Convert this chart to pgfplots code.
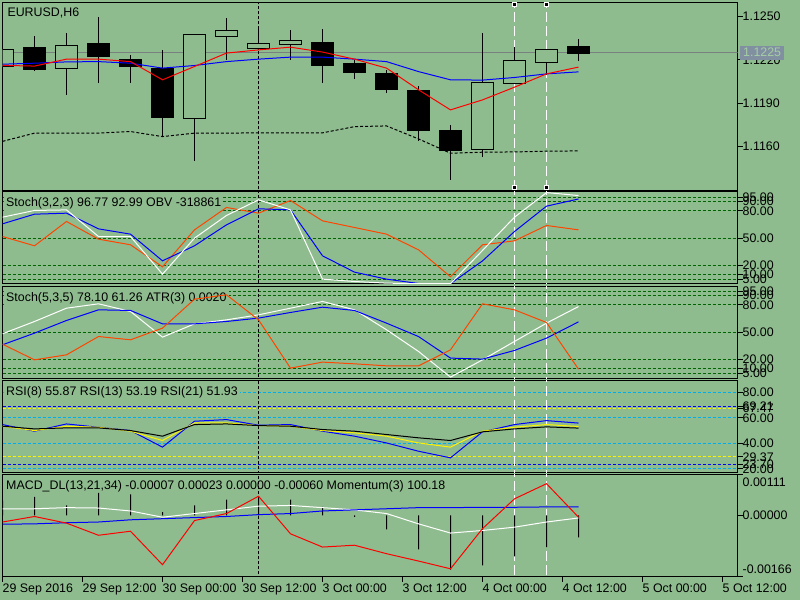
\documentclass[border=0pt]{standalone}
\usepackage{fontspec}
\setmainfont{Liberation Sans}
\usepackage{pgfplots}
\usepackage{pgfplotstable}
\pgfplotsset{compat=1.18}
\definecolor{bg}{RGB}{143,188,143}
\definecolor{lvl}{RGB}{0,100,0}
\definecolor{orred}{RGB}{255,69,0}
\definecolor{tagbg}{RGB}{128,144,160}
\definecolor{tagfg}{RGB}{165,205,165}
\definecolor{bidgray}{RGB}{120,128,128}
\newcommand{\lbl}{\fontsize{12.4}{14}\selectfont}

\pgfplotstableread{
i red blue env
0 1.12162 1.12170 1.11636
1 1.12157 1.12177 1.11693
2 1.12205 1.12186 1.11693
3 1.12205 1.12188 1.11693
4 1.12188 1.12177 1.11704
5 1.12062 1.12143 1.11669
6 1.12154 1.12161 1.11693
7 1.12247 1.12188 1.11693
8 1.12269 1.12205 1.11695
9 1.12288 1.12219 1.11695
10 1.12254 1.12219 1.11695
11 1.12205 1.12205 1.11738
12 1.12143 1.12188 1.11743
13 1.11993 1.12119 1.11653
14 1.11854 1.12062 1.11554
15 1.11923 1.12060 1.11561
16 1.12011 1.12078 1.11563
17 1.12103 1.12103 1.11568
18 1.12150 1.12117 1.11570
}\mainMA

\pgfplotstableread{
i w b r
0 73 65.7 51.8
1 80.4 76.3 41.6
2 81 77.4 68.3
3 51.8 60.2 48.9
4 51.8 54.4 42.7
5 10.5 25.1 18.5
6 50 41.6 59.1
7 74.9 64.6 83.7
8 92 82.2 77.4
9 81 81.1 91.3
10 5 30.6 69
11 2.4 12.7 61.7
12 0.6 5 54.4
13 0 0.2 37.2
14 0 0 7.6
15 36.5 25 42.7
16 73 57.3 47.1
17 100 85.1 63.9
18 96.77 92.99 59.1
}\stA

\pgfplotstableread{
i w b r
0 48.2 36.1 36.8
1 61.7 48.9 19.6
2 76.3 62.8 25.1
3 81.1 74.5 45.2
4 72.7 73.8 41.6
5 44.5 59.1 54.4
6 59.1 59.1 86.2
7 63.5 61.7 91
8 69 65.4 63.5
9 76.3 71.6 10.5
10 83.7 77.4 17.1
11 74.5 73.8 15.2
12 52.6 59.9 13
13 28.8 45.2 13
14 0.6 21.5 30.6
15 19.6 20.4 81.1
16 39.8 29.9 74.5
17 59.9 43.4 60.6
18 78.1 61.26 9.4
}\stB

\pgfplotstableread{
i k y b
0 53.4 53.4 54.7
1 51.3 50 49.5
2 52.1 53.4 55.2
3 52.1 52.6 52.6
4 50 49.5 50
5 45.6 42.2 37
6 54.7 56 57.3
7 55.2 56 58.6
8 53.9 53.9 54.2
9 53.4 53.4 54.7
10 50.8 50 49.5
11 49.5 48.2 45.6
12 46.9 45.6 40.3
13 44.3 40.3 33.8
14 42.2 37 28.6
15 49 49.5 49
16 51.3 52.6 54.7
17 52.9 54.7 57.8
18 51.93 53.19 55.87
}\rsi

\pgfplotstableread{
i h w b r
0 0.00040 0.00018 -0.00024 -0.00018
1 0.00050 0.00018 -0.00023 -0.00003
2 0.00027 0.00021 -0.00020 -0.00021
3 0.00061 0.00020 -0.00018 -0.00054
4 0.00057 0.00012 -0.00012 -0.00043
5 0.00009 -0.00005 -0.00009 -0.00134
6 0.00027 0.00005 -0.00006 -0.00014
7 0.00043 0.00015 -0.00003 0.00005
8 0.00052 0.00025 0.00002 0.00052
9 0.00043 0.00027 0.00005 -0.00050
10 0.00023 0.00021 0.00012 -0.00086
11 -0.00004 0.00015 0.00015 -0.00081
12 -0.00038 0.00005 0.00018 -0.00104
13 -0.00092 -0.00023 0.00021 -0.00124
14 -0.00147 -0.00048 0.00021 -0.00145
15 -0.00136 -0.00041 0.00022 -0.00036
16 -0.00111 -0.00032 0.00022 0.00045
17 -0.00086 -0.00018 0.00023 0.00086
18 -0.00060 -0.00007 0.00023 -0.00005
}\macd

\pgfplotsset{
 mt/.style={
  scale only axis, width=735pt, anchor=north west,
  xmin=0, xmax=22.96875,
  axis line style={line width=1pt},
  major tick style={line width=1pt, black},
  major tick length=5pt, tick align=outside,
  xtick=\empty, ytick pos=right, yticklabel pos=right,
  scaled y ticks=false, scaled x ticks=false,
  yticklabel style={anchor=west, inner sep=0pt},
  xticklabel style={anchor=north west, inner sep=0pt, yshift=-1.8pt},
  clip=true,
 },
 lv/.style={line width=1pt, dash pattern=on 3pt off 2pt},
 dl/.style={line width=1pt},
}
% candle: xleft, xcentre, xright, open, high, low, close, body fill
\newcommand{\candle}[8]{%
  \addplot[black, line width=1pt] coordinates {(#2,#6) (#2,#5)};
  \addplot[draw=black, fill=#8, line width=1pt] coordinates {(#1,#4) (#3,#4) (#3,#7) (#1,#7)} -- cycle;}
\newcommand{\ptitle}[1]{\node[anchor=north west, inner sep=2pt, fill=bg, xshift=1.5pt, yshift=-4pt] at (rel axis cs:0,1) {#1};}
\newcommand{\vlines}[2]{%
  \addplot[black, lv] coordinates {(8,#1) (8,#2)};
  \addplot[white, line width=1pt, dash pattern=on 10pt off 4pt] coordinates {(16,#1) (16,#2)};
  \addplot[white, line width=1pt, dash pattern=on 10pt off 4pt] coordinates {(17,#1) (17,#2)};}

\begin{document}
\begin{tikzpicture}[font=\lbl]
\fill[bg] (0,0) rectangle (800pt,-600pt);
\path[use as bounding box] (0,0) rectangle (800pt,-600pt);

% ---------- main price panel
\begin{axis}[mt, at={(2.5pt,-2.5pt)}, height=188pt,
  ymin=1.11296, ymax=1.12597,
  ytick={1.1160,1.1190,1.1220,1.1250}, yticklabels={1.1160,1.1190,1.1220,1.1250},
  extra y ticks={1.1225}, extra y tick labels={1.1225\hspace{3.5pt}},
  extra y tick style={yticklabel style={fill=tagbg, text=tagfg, inner xsep=3pt, inner ysep=2.7pt, xshift=2.5pt}, major tick length=0pt}]
\addplot[bidgray, dl] coordinates {(0,1.1225) (23,1.1225)};
\node[anchor=north west, inner sep=0pt, xshift=4.8pt, yshift=-4.8pt] at (rel axis cs:0,1) {EURUSD,H6};
\vlines{1.112}{1.127}
\candle{-0.345}{0}{0.345}{1.12154}{1.12274}{1.12154}{1.12274}{bg}
\candle{0.655}{1}{1.345}{1.12288}{1.12366}{1.12124}{1.12136}{black}
\candle{1.655}{2}{2.345}{1.12143}{1.12385}{1.11958}{1.12297}{bg}
\candle{2.655}{3}{3.345}{1.12311}{1.12496}{1.12039}{1.12223}{black}
\candle{3.655}{4}{4.345}{1.12205}{1.12235}{1.12043}{1.12154}{black}
\candle{4.655}{5}{5.345}{1.12143}{1.12269}{1.11665}{1.11804}{black}
\candle{5.655}{6}{6.345}{1.11797}{1.12378}{1.11503}{1.12378}{bg}
\candle{6.655}{7}{7.345}{1.12364}{1.12489}{1.12200}{1.12406}{bg}
\candle{7.655}{8}{8.345}{1.12276}{1.12436}{1.12269}{1.12316}{bg}
\candle{8.655}{9}{9.345}{1.12309}{1.12408}{1.12200}{1.12337}{bg}
\candle{9.655}{10}{10.345}{1.12323}{1.12415}{1.12043}{1.12161}{black}
\candle{10.655}{11}{11.345}{1.12177}{1.12200}{1.12069}{1.12112}{black}
\candle{11.655}{12}{12.345}{1.12108}{1.12131}{1.11974}{1.11997}{black}
\candle{12.655}{13}{13.345}{1.11986}{1.12020}{1.11642}{1.11711}{black}
\candle{13.655}{14}{14.345}{1.11709}{1.11750}{1.11369}{1.11572}{black}
\candle{14.655}{15}{15.345}{1.11582}{1.12389}{1.11527}{1.12046}{bg}
\candle{15.655}{16}{16.345}{1.12039}{1.12292}{1.12039}{1.12198}{bg}
\candle{16.655}{17}{17.345}{1.12184}{1.12274}{1.12096}{1.12274}{bg}
\candle{17.655}{18}{18.345}{1.12290}{1.12344}{1.12195}{1.12247}{black}
\addplot[black, lv] table[x=i, y=env] {\mainMA};
\addplot[blue, dl] table[x=i, y=blue] {\mainMA};
\addplot[red, dl] table[x=i, y=red] {\mainMA};
\addplot[only marks, mark=square*, mark size=2pt, mark options={fill=black, draw=white, line width=0.8pt, solid}] coordinates {(16,1.12581) (16,1.11319) (17,1.12581) (17,1.11319)};
\end{axis}

% ---------- Stoch(3,2,3) + OBV
\begin{axis}[mt, at={(2.5pt,-191.5pt)}, height=92pt,
  ymin=0.2, ymax=101.2,
  ytick={5,10,20,50,80,90,95}, yticklabels={5.00,10.00,20.00,50.00,80.00,90.00,95.00},
  ymajorgrids, major grid style={lvl, lv}]
\ptitle{Stoch(3,2,3) 96.77 92.99 OBV -318861}
\vlines{-10}{110}
\addplot[orred, dl] table[x=i, y=r] {\stA};
\addplot[blue, dl] table[x=i, y=b] {\stA};
\addplot[white, dl] table[x=i, y=w] {\stA};
\end{axis}

% ---------- Stoch(5,3,5) + ATR
\begin{axis}[mt, at={(2.5pt,-286.5pt)}, height=92pt,
  ymin=-0.9, ymax=100.1,
  ytick={5,10,20,50,80,90,95}, yticklabels={5.00,10.00,20.00,50.00,80.00,90.00,95.00},
  ymajorgrids, major grid style={lvl, lv}]
\ptitle{Stoch(5,3,5) 78.10 61.26 ATR(3) 0.0020}
\vlines{-10}{110}
\addplot[white, dl] table[x=i, y=w] {\stB};
\addplot[blue, dl] table[x=i, y=b] {\stB};
\addplot[orred, dl] table[x=i, y=r] {\stB};
\end{axis}

% ---------- RSI
\begin{axis}[mt, at={(2.5pt,-380pt)}, height=92.5pt,
  ymin=17.1, ymax=89.65,
  ytick={20,23.70,29.37,40,60,67.47,69.21,80},
  yticklabels={20.00,23.70,29.37,40.00,60.00,67.47,69.21,80.00}]
\addplot[cyan, lv] coordinates {(0,80) (23,80)};
\addplot[cyan, lv] coordinates {(0,60) (23,60)};
\addplot[cyan, lv] coordinates {(0,40) (23,40)};
\addplot[cyan, lv] coordinates {(0,20) (23,20)};
\addplot[yellow, lv] coordinates {(0,67.47) (23,67.47)};
\addplot[yellow, lv] coordinates {(0,29.37) (23,29.37)};
\addplot[blue, lv] coordinates {(0,69.21) (23,69.21)};
\addplot[blue, lv] coordinates {(0,23.70) (23,23.70)};
\ptitle{RSI(8) 55.87 RSI(13) 53.19 RSI(21) 51.93}
\vlines{0}{100}
\addplot[blue, dl] table[x=i, y=b] {\rsi};
\addplot[yellow, dl] table[x=i, y=y] {\rsi};
\addplot[black, dl] table[x=i, y=k] {\rsi};
\end{axis}

% ---------- MACD + Momentum
\begin{axis}[mt, at={(2.5pt,-474.5pt)}, height=102pt,
  ymin=-0.00166, ymax=0.00111,
  ytick={-0.00166,0,0.00111},
  yticklabels={\raisebox{2.76pt}{-0.00166},\raisebox{-4.44pt}{0.00000},\raisebox{-11.64pt}{0.00111}},
  yticklabel style={anchor=base west, inner sep=0pt},
  xtick={0,2.5,5,7.5,10,12.5,15,17.5,20,22.5}, xtick pos=left,
  xticklabels={29 Sep 2016,29 Sep 12:00,30 Sep 00:00,30 Sep 12:00,3 Oct 00:00,3 Oct 12:00,4 Oct 00:00,4 Oct 12:00,5 Oct 00:00,5 Oct 12:00}]
\ptitle{MACD\_DL(13,21,34) -0.00007 0.00023 0.00000 -0.00060 Momentum(3) 100.18}
\vlines{-0.002}{0.002}
\addplot[ybar, bar width=1pt, fill=black, draw=none] table[x=i, y=h] {\macd};
\addplot[white, dl] table[x=i, y=w] {\macd};
\addplot[blue, dl] table[x=i, y=b] {\macd};
\addplot[red, dl] table[x=i, y=r] {\macd};
\end{axis}
\end{tikzpicture}
\end{document}
